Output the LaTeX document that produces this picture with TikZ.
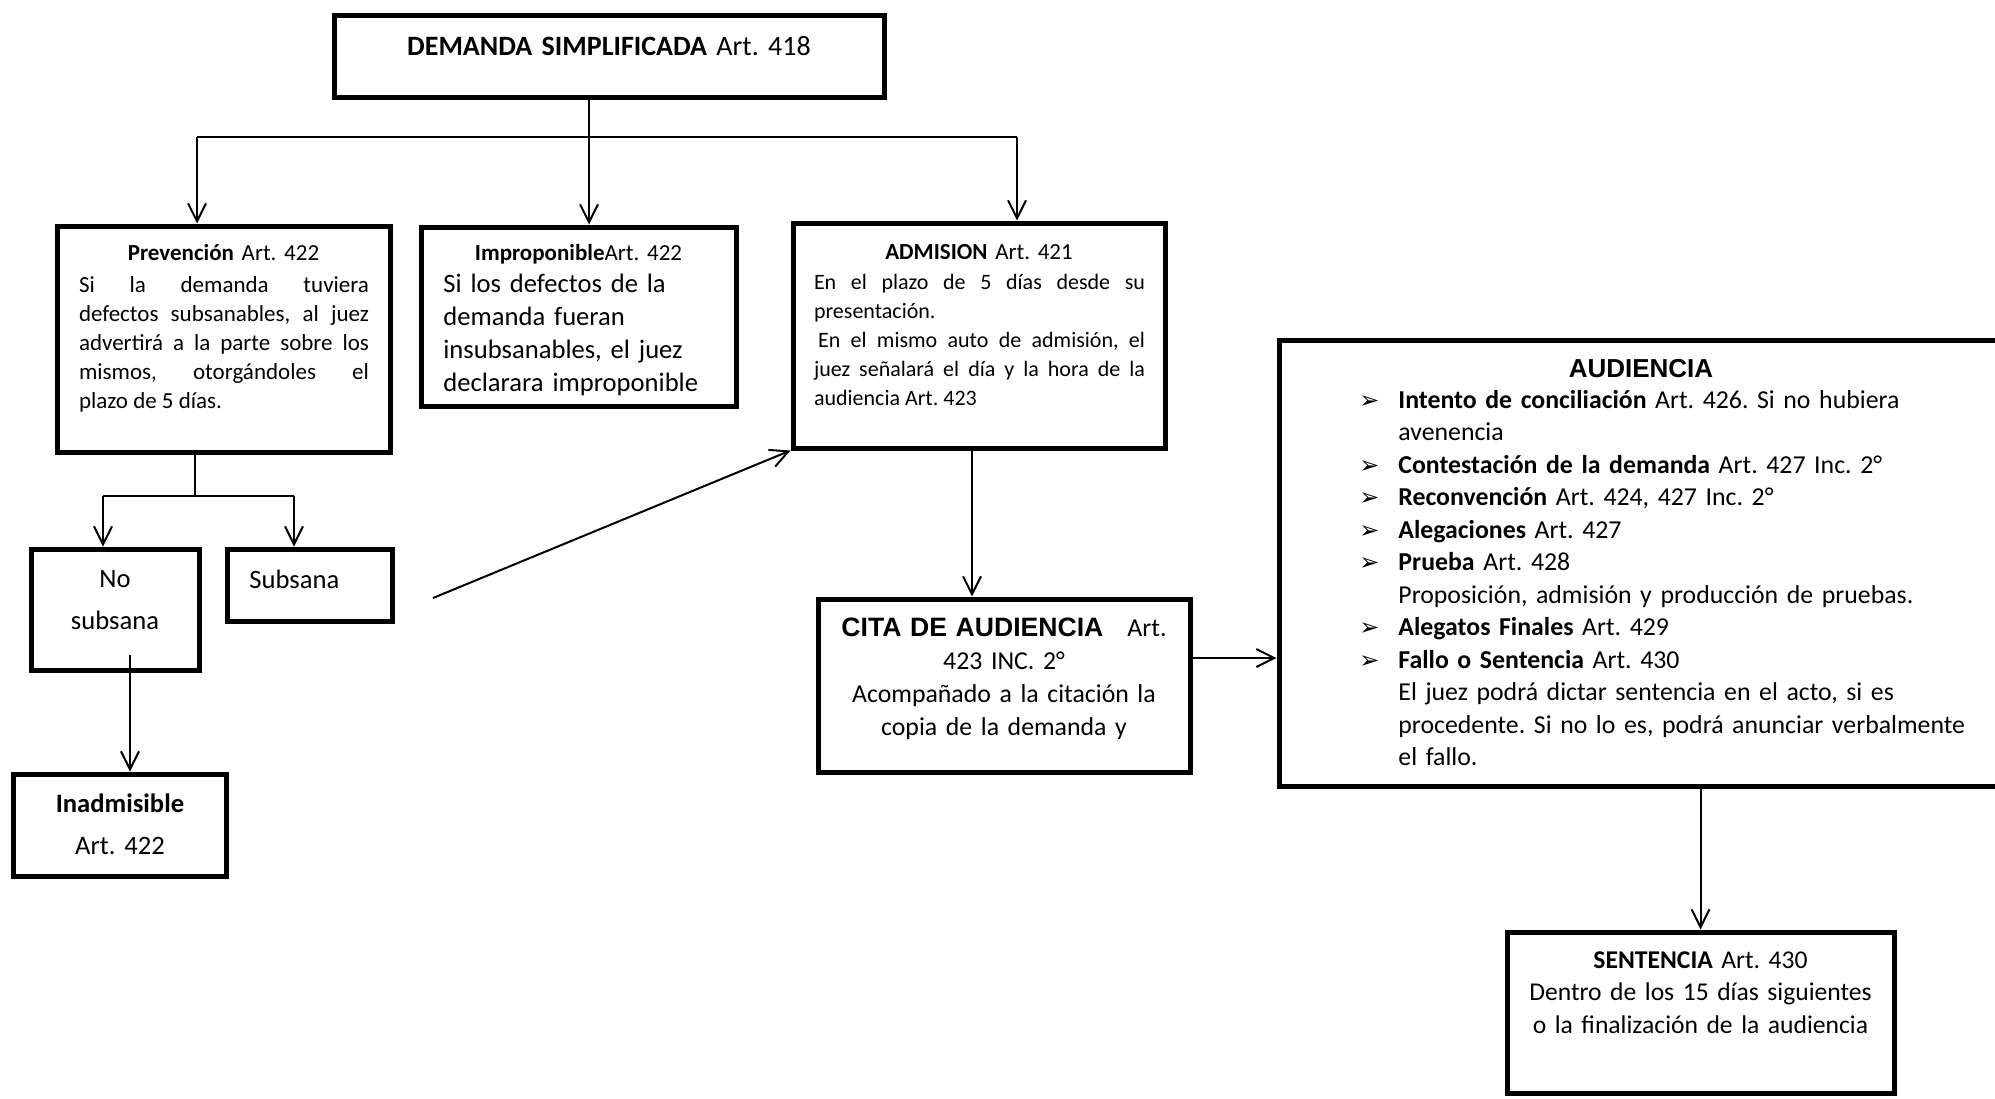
\documentclass[tikz,border=0pt]{standalone}
\usepackage{fontspec}
\setmainfont{Carlito}
\newfontfamily\arialf{Liberation Sans}
\newfontfamily\dejavu{DejaVu Sans}
\usetikzlibrary{arrows.meta}
\frenchspacing

\newcommand\vineta{\makebox[19.5pt][l]{\dejavu\fontsize{12}{12}\selectfont ➢}}
\newcommand\sangria{\hspace*{19.5pt}}

\tikzset{
    caja/.style={draw, line width=2.5pt, inner sep=0pt},
    texto/.style={inner sep=0pt, anchor=base},
    linea/.style={line width=1pt},
    flecha/.style={line width=1pt, -{Straight Barb[length=9pt,width=9pt]}},
    chico/.style={font=\fontsize{11.5}{14.5}\selectfont},
    normal/.style={font=\fontsize{12.9}{16.25}\selectfont},
}

\begin{document}
\begin{tikzpicture}[x=0.5pt, y=-0.5pt]
            \useasboundingbox (0,0) rectangle (1995,1098);
            \clip (0,0) rectangle (1995,1098);

            \node[caja, minimum width=275pt, minimum height=41pt] (demanda) at (609,56) {};
            \node[caja, minimum width=166.5pt, minimum height=113pt] (prev) at (223.5,339) {};
            \node[caja, minimum width=157.5pt, minimum height=89.5pt] (impro) at (578.5,316.5) {};
            \node[caja, minimum width=186pt, minimum height=112.5pt] (admi) at (979,335.5) {};
            \node[caja, minimum width=370.5pt, minimum height=223pt] (audi) at (1649.5,563) {};
            \node[caja, minimum width=186pt, minimum height=86.5pt] (cita) at (1004,685.5) {};
            \node[caja, minimum width=193.5pt, minimum height=80.5pt] (sent) at (1700.5,1012.5) {};
            \node[caja, minimum width=84pt, minimum height=60.5pt] (nosub) at (115,609.5) {};
            \node[caja, minimum width=82.5pt, minimum height=36pt] (subs) at (309.5,585) {};
            \node[caja, minimum width=106.5pt, minimum height=51pt] (inad) at (119.5,825) {};

            \node[texto, text width=260pt, align=center, font=\fontsize{14}{17}\selectfont] (demandatxt) at (609,55)
                {\textbf{DEMANDA SIMPLIFICADA} Art. 418};

            \node[texto, chico, text width=160pt, align=center] (prevtit) at (223.5,260) {\textbf{Prevención} Art. 422};
            \node[texto, chico, text width=145pt, align=justify] (prevtxt) at (224,292)
                {Si la demanda tuviera\linebreak defectos subsanables, al juez\linebreak advertirá a la parte sobre los\linebreak mismos, otorgándoles el\linebreak plazo de 5 días.};

            \node[texto, chico, text width=150pt, align=center] (improtit) at (578.5,260) {\textbf{Improponible}Art. 422};
            \node[texto, anchor=base west, text width=140pt, align=left, font=\fontsize{13.3}{16.5}\selectfont] (improtxt) at (443,292)
                {Si los defectos de la\\ demanda fueran\\ insubsanables, el juez\\ declarara improponible};

            \node[texto, chico, text width=180pt, align=center] (admitit) at (979,259) {\textbf{ADMISION} Art. 421};
            \node[texto, text width=165.5pt, align=justify, font=\fontsize{11}{14.5}\selectfont] (admitxt) at (979.5,289)
                {En el plazo de 5 días desde su\linebreak presentación.\\ \hspace*{2pt}En el mismo auto de admisión, el\linebreak juez señalará el día y la hora de la\linebreak audiencia Art. 423};

            \node[texto, text width=120pt, align=center, font=\arialf\bfseries\fontsize{13}{16}\selectfont] (auditit) at (1641,377) {AUDIENCIA};
            \node[texto, normal, anchor=base west, text width=320pt, align=left] (auditxt) at (1359,408)
                {\vineta\textbf{Intento de conciliación} Art. 426. Si no hubiera\\
                 \sangria avenencia\\
                 \vineta\textbf{Contestación de la demanda} Art. 427 Inc. 2°\\
                 \vineta\textbf{Reconvención} Art. 424, 427 Inc. 2°\\
                 \vineta\textbf{Alegaciones} Art. 427\\
                 \vineta\textbf{Prueba} Art. 428\\
                 \sangria Proposición, admisión y producción de pruebas.\\
                 \vineta\textbf{Alegatos Finales} Art. 429\\
                 \vineta\textbf{Fallo o Sentencia} Art. 430\\
                 \sangria El juez podrá dictar sentencia en el acto, si es\\
                 \sangria procedente. Si no lo es, podrá anunciar verbalmente\\
                 \sangria el fallo.};

            \node[texto, text width=180pt, align=center, font=\fontsize{12.9}{16.5}\selectfont] (citatxt) at (1004,636)
                {{\arialf\bfseries\fontsize{13.3}{16.5}\selectfont CITA DE AUDIENCIA}\hspace{12pt}Art.\\ 423 INC. 2°\\ Acompañado a la citación la\\ copia de la demanda y};

            \node[texto, font=\fontsize{12.8}{16.25}\selectfont, text width=190pt, align=center] (senttxt) at (1700.5,968)
                {\textbf{SENTENCIA} Art. 430\\ Dentro de los 15 días siguientes\\ o la finalización de la audiencia};

            \node[texto, text width=80pt, align=center, font=\fontsize{13.3}{21}\selectfont] (nosubtxt) at (115,587) {No\\ subsana};
            \node[texto, anchor=base west, font=\fontsize{13.3}{16}\selectfont] (substxt) at (249,588) {Subsana};
            \node[texto, text width=100pt, align=center, font=\fontsize{13.3}{21}\selectfont] (inadtxt) at (120,812)
                {\textbf{Inadmisible}\\ Art. 422};

            \coordinate (rp) at (197,137);
            \coordinate (ri) at (589,137);
            \coordinate (ra) at (1017,137);
            \draw[linea] (demanda.south -| ri) -- (ri);
            \draw[linea] (rp) -- (ra);
            \draw[flecha] (rp) -- (rp |- prev.north);
            \draw[flecha] (ri) -- (ri |- impro.north);
            \draw[flecha] (ra) -- (ra |- admi.north);

            \coordinate (sp) at (195,496);
            \coordinate (sn) at (103,496);
            \coordinate (ss) at (294,496);
            \draw[linea] (prev.south -| sp) -- (sp);
            \draw[linea] (sn) -- (ss);
            \draw[flecha] (sn) -- (sn |- nosub.north);
            \draw[flecha] (ss) -- (ss |- subs.north);

            \coordinate (ni) at (130,655);
            \draw[flecha] (ni) -- (ni |- inad.north);

            \coordinate (sa) at (433,598);
            \draw[flecha] (sa) -- (admi.south west);

            \coordinate (ac) at (972,450);
            \draw[flecha] (admi.south -| ac) -- (cita.north -| ac);

            \coordinate (ca) at (1192,658);
            \draw[flecha] (cita.east |- ca) -- (audi.west |- ca);

            \draw[flecha] (audi.south -| sent.north) -- (sent.north);
\end{tikzpicture}
\end{document}
